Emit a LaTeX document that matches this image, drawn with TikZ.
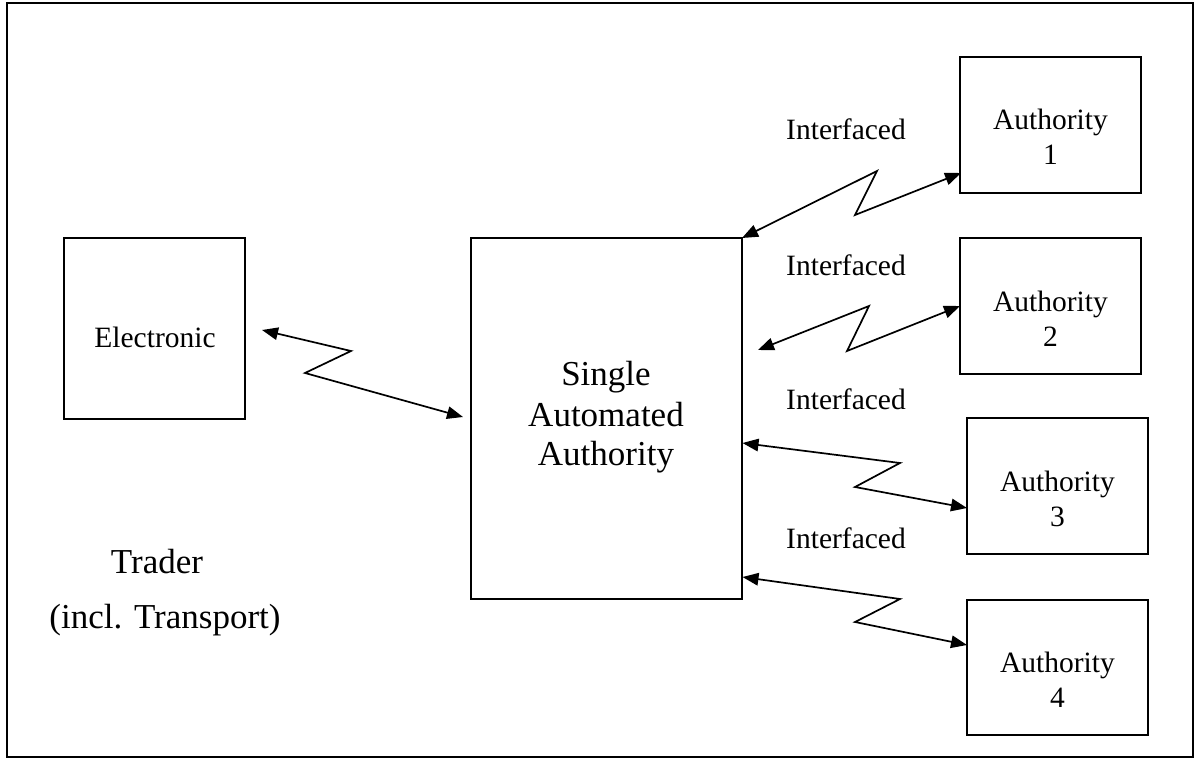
\documentclass[tikz,border=0pt]{standalone}
\usepackage{fontspec}
\setmainfont{Liberation Serif}
\usetikzlibrary{arrows.meta,calc}
\begin{document}
\begin{tikzpicture}[x=1pt,y=-1pt,
  box/.style={draw, line width=1.9pt, inner sep=0pt, outer sep=0pt, minimum width=181pt, minimum height=136pt},
  txt/.style={anchor=base, inner sep=0pt, font=\fontsize{29.5}{34}\selectfont},
  big/.style={anchor=base, inner sep=0pt, font=\fontsize{35}{40}\selectfont},
  conn/.style={line width=1.7pt, {Triangle[length=16pt,width=12.5pt]}-{Triangle[length=16pt,width=12.5pt]}}]
\useasboundingbox (0,0) rectangle (1198,759);
\draw[line width=2.7pt] (7,3) rectangle (1193,757);

% boxes
\node[box, minimum height=181pt] (elec) at (154.5,328.5) {};
\node[box, minimum width=271pt, minimum height=361pt] (saa) at (606.5,418.5) {};
\node[box] (a1) at (1050.5,125) {};
\node[box] (a2) at (1050.5,306) {};
\node[box] (a3) at (1057.5,486) {};
\node[box, minimum height=135pt] (a4) at (1057.5,667.5) {};

% texts
\node[txt] (elect) at (155,347) {Electronic};
\node[big] (saat1) at (606,385) {Single};
\node[big] (saat2) at (606,426) {Automated};
\node[big] (saat3) at (606,465) {Authority};
\node[big] (trader) at (157,573) {Trader};
\node[big] (incl) at (165,628) {(incl. Transport)};
\node[txt] (a1t1) at (1050.5,130) {Authority};
\node[txt] (a1t2) at (1050.5,165) {1};
\node[txt] (a2t1) at (1050.5,311) {Authority};
\node[txt] (a2t2) at (1050.5,346) {2};
\node[txt] (a3t1) at (1057.5,491) {Authority};
\node[txt] (a3t2) at (1057.5,526) {3};
\node[txt] (a4t1) at (1057.5,672) {Authority};
\node[txt] (a4t2) at (1057.5,707) {4};
\node[txt] (if1) at (846,140) {Interfaced};
\node[txt] (if2) at (846,275) {Interfaced};
\node[txt] (if3) at (846,409) {Interfaced};
\node[txt] (if4) at (846,548) {Interfaced};

% connector points
\coordinate (e0) at ($(elec.east)+(17,1.5)$);
\coordinate (e1) at (351,351);
\coordinate (e2) at (305,373);
\coordinate (e3) at ($(saa.west)+(-8,-1.5)$);

\coordinate (c10) at (saa.north east);
\coordinate (c11) at (877,171);
\coordinate (c12) at (855,215);
\coordinate (c13) at ($(a1.west)+(1,48)$);

\coordinate (c20) at (758,350);
\coordinate (c21) at (869,306);
\coordinate (c22) at (847,351);
\coordinate (c23) at (a2.west);

\coordinate (c30) at (742.5,443);
\coordinate (c31) at (900,463);
\coordinate (c32) at (855,487);
\coordinate (c33) at ($(a3.west)+(0,22)$);

\coordinate (c40) at (742.5,577);
\coordinate (c41) at (900,599);
\coordinate (c42) at (855,622);
\coordinate (c43) at ($(a4.west)+(0,-22.5)$);

\draw[conn] (e0) -- (e1) -- (e2) -- (e3);
\draw[conn] (c10) -- (c11) -- (c12) -- (c13);
\draw[conn] (c20) -- (c21) -- (c22) -- (c23);
\draw[conn] (c30) -- (c31) -- (c32) -- (c33);
\draw[conn] (c40) -- (c41) -- (c42) -- (c43);
\end{tikzpicture}
\end{document}
